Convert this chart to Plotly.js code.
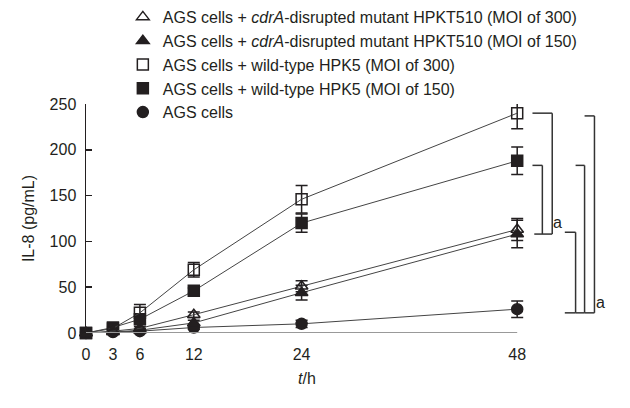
<!DOCTYPE html>
<html>
<head>
<meta charset="utf-8">
<script src="https://cdn.plot.ly/plotly-3.0.1.min.js"></script>
<style>
  body { margin: 0; background: #fff; }
  #il8Chart { width: 630px; height: 408px; }
</style>
</head>
<body>
<div id="il8Chart"></div>
<script>
// Time points (h)
const hours = [0, 3, 6, 12, 24, 48];

// IL-8 (pg/mL)
const mutant300 = [0, 2, 5, 20, 51, 113];
const mutant300Err = [0, 1, 2, 3, 6, 12];
const mutant150 = [0, 1, 3, 11, 44, 108];
const mutant150Err = [0, 1, 2, 3, 8, 15];
const wild300 = [0, 5, 22, 69, 146, 240];
const wild300Err = [0, 1, 9, 8, 15, 17];
const wild150 = [0, 6, 15, 46, 120, 188];
const wild150Err = [0, 1, 3, 3, 10, 15];
const agsOnly = [0, 1, 2, 6, 10, 26];
const agsOnlyErr = [0, 1, 1, 2, 4, 9];

const legendNames = [
    'AGS cells + <i>cdrA</i>-disrupted mutant HPKT510 (MOI of 300)',
    'AGS cells + <i>cdrA</i>-disrupted mutant HPKT510 (MOI of 150)',
    'AGS cells + wild-type HPK5 (MOI of 300)',
    'AGS cells + wild-type HPK5 (MOI of 150)',
    'AGS cells'
];
const symbols = ['triangle-up-open', 'triangle-up', 'square-open', 'square', 'circle'];

const ink = '#231f20';

function makeTrace(values, errors, symbol) {
    return {
        x: hours,
        y: values,
        type: 'scatter',
        mode: 'lines+markers',
        showlegend: false,
        cliponaxis: false,
        line: { color: '#444', width: 1 },
        marker: { symbol: symbol, size: 11, color: ink, line: { color: ink, width: 1.5 } },
        error_y: { type: 'data', array: errors, visible: true, color: ink, thickness: 1.5, width: 6 }
    };
}

const seriesValues = [mutant300, mutant150, wild300, wild150, agsOnly];
const seriesErrors = [mutant300Err, mutant150Err, wild300Err, wild150Err, agsOnlyErr];

const traces = [];
// plot the curves first (AGS cells at the bottom)
for (let i = seriesValues.length - 1; i >= 0; i--) {
    traces.push(makeTrace(seriesValues[i], seriesErrors[i], symbols[i]));
}
// legend-only entries, markers without lines
legendNames.forEach((name, i) => {
    traces.push({
        x: [null], y: [null],
        type: 'scatter',
        mode: 'markers',
        name: name,
        marker: { symbol: symbols[i], size: 11, color: ink, line: { color: ink, width: 1.5 } }
    });
});

// significance brackets (x beyond 48 h, y at group levels)
function bracket(x0, x1, yTop, yBottom, xBottomEnd) {
    const style = { color: '#333', width: 1.5 };
    return [
        { type: 'line', x0: x0, x1: x1, y0: yTop, y1: yTop, line: style },
        { type: 'line', x0: x1, x1: x1, y0: yTop, y1: yBottom, line: style },
        { type: 'line', x0: xBottomEnd, x1: x1, y0: yBottom, y1: yBottom, line: style }
    ];
}

const shapes = [
    // grey baseline from 0 to 48 h
    { type: 'line', x0: 0, x1: 48, y0: 0, y1: 0, line: { color: '#999', width: 2 } },
    ...bracket(49.7, 51.9, 240, 108, 49.9),
    ...bracket(49.7, 50.8, 183, 108, 50.8),
    ...bracket(53.3, 54.5, 110, 22, 53.3),
    ...bracket(54.5, 55.5, 183, 22, 54.5),
    ...bracket(55.5, 56.6, 237, 22, 55.5)
];

const layout = {
    width: 630,
    height: 408,
    margin: { l: 86, r: 5, t: 104, b: 75, autoexpand: false },
    paper_bgcolor: '#fff',
    plot_bgcolor: '#fff',
    font: { family: 'Liberation Sans, Arial, sans-serif', size: 16, color: ink },
    showlegend: true,
    legend: {
        xref: 'container', yref: 'container',
        x: 0.195, y: 1.0,
        xanchor: 'left', yanchor: 'top',
        bgcolor: 'rgba(0,0,0,0)',
        font: { size: 16, color: ink },
        tracegroupgap: 0
    },
    xaxis: {
        range: [0, 60],
        tickvals: hours,
        ticktext: hours.map(String),
        showgrid: false,
        zeroline: false,
        showline: false,
        ticks: '',
        ticklabelstandoff: 10,
        tickfont: { size: 16 }
    },
    yaxis: {
        range: [0, 250],
        tickvals: [0, 50, 100, 150, 200, 250],
        showgrid: false,
        zeroline: false,
        showline: true,
        linecolor: ink,
        linewidth: 1.5,
        ticks: 'inside',
        ticklen: 6,
        tickwidth: 1.5,
        tickcolor: ink,
        ticklabelstandoff: 5,
        tickfont: { size: 16 }
    },
    shapes: shapes,
    annotations: [
        // axis titles
        { xref: 'x', yref: 'paper', x: 24.6, y: -0.2, yanchor: 'middle', text: '<i>t</i>/h',
          showarrow: false, font: { size: 16 } },
        { xref: 'paper', yref: 'paper', x: -0.126, y: 0.5, textangle: -90, text: 'IL-8 (pg/mL)',
          showarrow: false, font: { size: 16 } },
        // significance marks
        { x: 52.5, y: 121, text: 'a', showarrow: false, xanchor: 'center', font: { size: 16 } },
        { x: 57.3, y: 33, text: 'a', showarrow: false, xanchor: 'center', font: { size: 16 } }
    ]
};

Plotly.newPlot('il8Chart', traces, layout, { displayModeBar: false, staticPlot: true });
</script>
</body>
</html>
